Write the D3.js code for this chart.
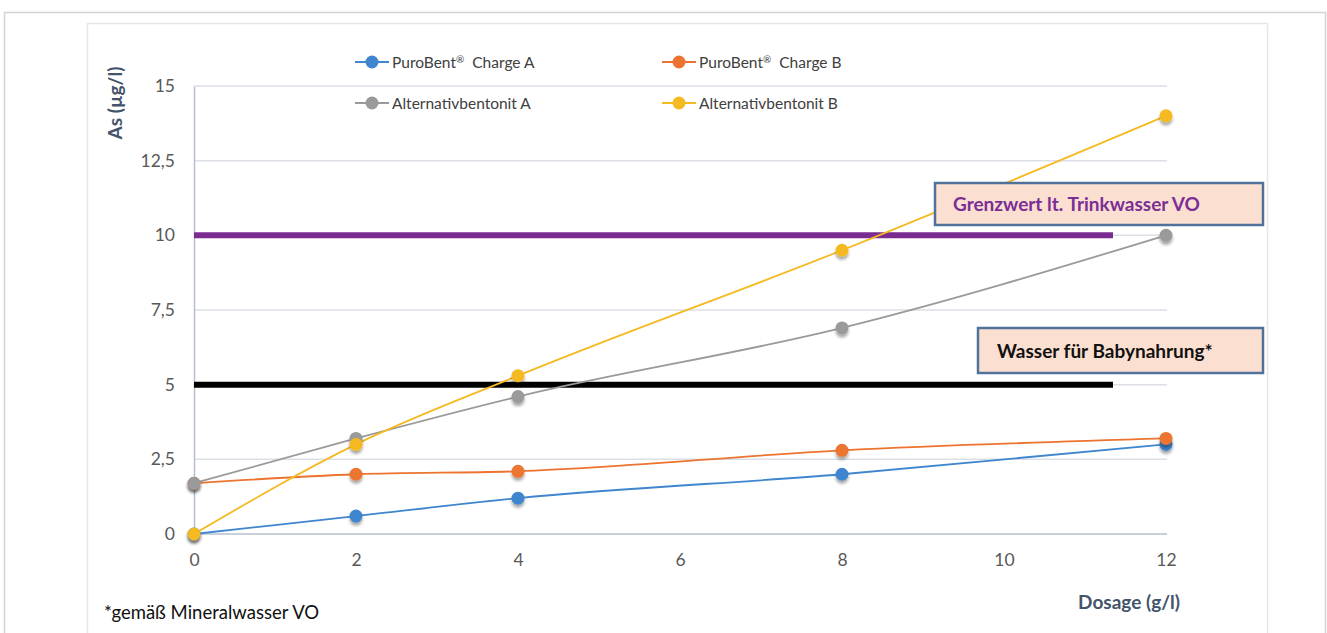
<!DOCTYPE html>
<html>
<head>
<meta charset="utf-8">
<script src="https://cdn.jsdelivr.net/npm/d3@7"></script>
<style>
  body { margin: 0; background: #fff; }
  svg text { font-family: Lato, "Open Sans", sans-serif; }
</style>
</head>
<body>
<div class="chart"></div>
<script>
// data
var dosage = [0, 2, 4, 8, 12];
var puroA = [0, 0.6, 1.2, 2.0, 3.0];
var puroB = [1.7, 2.0, 2.1, 2.8, 3.2];
var altA = [1.7, 3.2, 4.6, 6.9, 10.0];
var altB = [0, 3.0, 5.3, 9.5, 14.0];
var seriesNames = [["PuroBent", "\u00AE", "  Charge A"], ["PuroBent", "\u00AE", "  Charge B"], ["Alternativbentonit A"], ["Alternativbentonit B"]];
var seriesColors = ["#3f86cf", "#ec7430", "#9a9a9a", "#f5b921"];
var xTicks = [0, 2, 4, 6, 8, 10, 12];
var yTicks = [0, 2.5, 5, 7.5, 10, 12.5, 15];
var limitValues = [10, 5];
var limitLabels = ["Grenzwert lt. Trinkwasser VO", "Wasser f\u00FCr Babynahrung*"];
var limitColors = ["#7b2c91", "#000000"];

var W = 1327, H = 633;
var svg = d3.select(".chart").append("svg").attr("width", W).attr("height", H);

// outer and inner frames
svg.append("rect").attr("x", 4.5).attr("y", 12.5).attr("width", 1321).attr("height", 640)
  .attr("fill", "none").attr("stroke", "#d4d4d4").attr("stroke-width", 1.5);
svg.append("rect").attr("x", 87.5).attr("y", 23.5).attr("width", 1180).attr("height", 640)
  .attr("fill", "none").attr("stroke", "#e6e6e6").attr("stroke-width", 1.5);

var x = d3.scaleLinear().domain([0, 12]).range([194, 1166]);
var y = d3.scaleLinear().domain([0, 15]).range([534, 86]);

// grid
svg.append("g").selectAll("line").data(yTicks.filter(function(d){ return d > 0; })).enter()
  .append("line")
  .attr("x1", x(0)).attr("x2", x(12) + 1)
  .attr("y1", function(d){ return y(d); }).attr("y2", function(d){ return y(d); })
  .attr("stroke", "#dbdfe6").attr("stroke-width", 1.5);

// axes
var xAxis = svg.append("g").attr("transform", "translate(0," + y(0) + ")")
  .call(d3.axisBottom(x).tickValues(xTicks).tickSize(0).tickPadding(20));
var yAxis = svg.append("g").attr("transform", "translate(" + x(0) + ",0)")
  .call(d3.axisLeft(y).tickValues(yTicks).tickSize(0).tickPadding(19)
    .tickFormat(function(d){ return String(d).replace(".", ","); }));
[xAxis, yAxis].forEach(function(a){
  a.select(".domain").attr("stroke", "#b7bfcc").attr("stroke-width", 1.5);
  a.selectAll("text").attr("fill", "#595959").style("font-size", "17.5px");
});
xAxis.select(".domain").attr("d", "M" + x(0) + ",0H" + (x(12) + 1));

// axis titles
svg.append("text").attr("transform", "translate(122,103) rotate(-90)")
  .attr("text-anchor", "middle").attr("fill", "#44546a")
  .style("font-size", "19px").style("font-weight", "bold").text("As (\u00B5g/l)");
svg.append("text").attr("x", 1180).attr("y", 609).attr("text-anchor", "end")
  .attr("fill", "#44546a").style("font-size", "19px").style("font-weight", "bold").text("Dosage (g/l)");
svg.append("text").attr("x", 104).attr("y", 619).attr("fill", "#111")
  .style("font-size", "18.5px").text("*gem\u00E4\u00DF Mineralwasser VO");

// limit lines
svg.append("g").selectAll("line").data(limitValues).enter().append("line")
  .attr("x1", x(0)).attr("x2", 1113)
  .attr("y1", function(d){ return y(d); }).attr("y2", function(d){ return y(d); })
  .attr("stroke", function(d, i){ return limitColors[i]; }).attr("stroke-width", 6);

// shadow for markers
var defs = svg.append("defs");
var f = defs.append("filter").attr("id", "sh").attr("x", "-50%").attr("y", "-50%").attr("width", "200%").attr("height", "220%");
f.append("feDropShadow").attr("dx", 0).attr("dy", 3).attr("stdDeviation", 1.8)
  .attr("flood-color", "#000").attr("flood-opacity", 0.35);

var allSeries = [puroA, puroB, altA, altB];
var line = d3.line().x(function(d, i){ return x(dosage[i]); }).y(function(d){ return y(d); })
  .curve(d3.curveMonotoneX);

allSeries.forEach(function(vals, s){
  svg.append("path").datum(vals).attr("d", line)
    .attr("fill", "none").attr("stroke", seriesColors[s]).attr("stroke-width", 1.8);
});
allSeries.forEach(function(vals, s){
  svg.append("g").selectAll("circle").data(vals).enter().append("circle")
    .attr("cx", function(d, i){ return x(dosage[i]); })
    .attr("cy", function(d){ return y(d); })
    .attr("r", 6.5).attr("fill", seriesColors[s]).attr("filter", "url(#sh)");
});

// legend
var legendPos = [[355, 62], [662, 62], [355, 103], [662, 103]];
seriesNames.forEach(function(parts, s){
  var p = legendPos[s];
  var g = svg.append("g").attr("transform", "translate(" + p[0] + "," + p[1] + ")");
  g.append("line").attr("x1", 0).attr("x2", 34).attr("stroke", seriesColors[s]).attr("stroke-width", 1.8);
  g.append("circle").attr("cx", 17).attr("r", 6.5).attr("fill", seriesColors[s]);
  var t = g.append("text").attr("x", 37).attr("y", 6).attr("fill", "#404040")
    .style("font-size", "15.5px").style("white-space", "pre");
  t.append("tspan").text(parts[0]);
  if (parts.length > 1) {
    t.append("tspan").attr("dy", -5).style("font-size", "10px").text(parts[1]);
    t.append("tspan").attr("dy", 5).text(parts[2]);
  }
});

// label boxes
var boxes = [[935, 183, 328, 42, 953, 211], [978, 328, 285, 45, 997, 358]];
boxes.forEach(function(b, i){
  svg.append("rect").attr("x", b[0]).attr("y", b[1]).attr("width", b[2]).attr("height", b[3])
    .attr("fill", "#fbdfd0").attr("stroke", "#50729a").attr("stroke-width", 2.5);
  svg.append("text").attr("x", b[4]).attr("y", b[5])
    .attr("fill", limitColors[i] === "#000000" ? "#111" : "#7a2e96")
    .style("font-size", "19px").style("font-weight", "bold").text(limitLabels[i]);
});
</script>
</body>
</html>
